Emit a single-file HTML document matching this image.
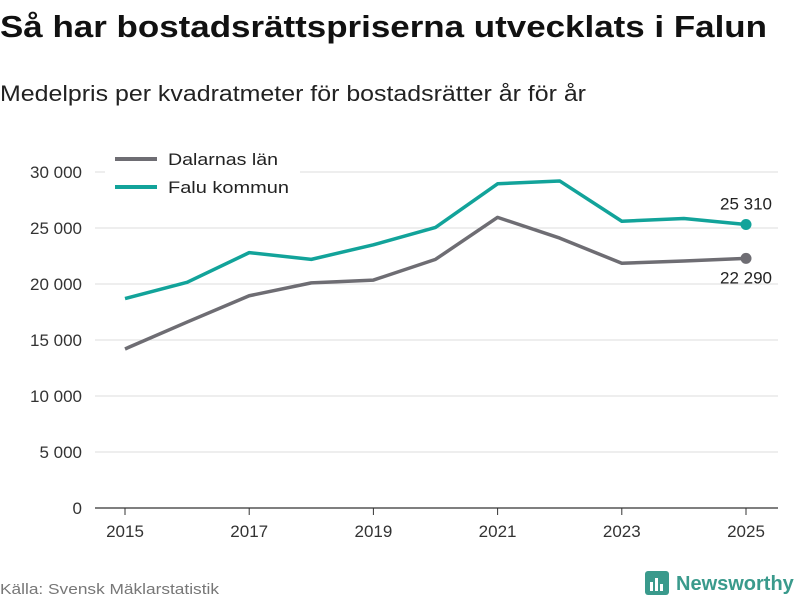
<!DOCTYPE html>
<html><head><meta charset="utf-8"><style>
body{margin:0;background:#fff;width:800px;height:600px;overflow:hidden;font-family:"Liberation Sans","DejaVu Sans",sans-serif}
</style></head><body>
<svg width="800" height="600" xmlns="http://www.w3.org/2000/svg">
<text x="0" y="37" font-size="31" font-weight="bold" fill="#111" textLength="767" lengthAdjust="spacingAndGlyphs">Så har bostadsrättspriserna utvecklats i Falun</text>
<text x="0" y="101" font-size="22" fill="#222" textLength="586" lengthAdjust="spacingAndGlyphs">Medelpris per kvadratmeter för bostadsrätter år för år</text>
<g id="grid"></g>
<g id="yt"></g>
<g id="xt"></g>
<g id="series"></g>
<g>
<rect x="105" y="146" width="195" height="56" fill="#fff"/>
<line x1="115" y1="159" x2="157" y2="159" stroke="#6e6d73" stroke-width="4"/>
<text x="168" y="165" font-size="17" fill="#222" textLength="110" lengthAdjust="spacingAndGlyphs">Dalarnas län</text>
<line x1="115" y1="187" x2="157" y2="187" stroke="#12a39a" stroke-width="4"/>
<text x="168" y="193" font-size="17" fill="#222" textLength="121" lengthAdjust="spacingAndGlyphs">Falu kommun</text>
</g>
<text x="0" y="594" font-size="15" fill="#777" textLength="219" lengthAdjust="spacingAndGlyphs">Källa: Svensk Mäklarstatistik</text>
<g>
<rect x="645" y="571" width="24" height="24" rx="3" fill="#3a9a8c"/>
<rect x="650" y="582" width="3" height="9" fill="#fff"/><rect x="655" y="578" width="3" height="13" fill="#fff"/><rect x="660" y="584" width="3" height="7" fill="#fff"/>
<text x="676" y="590" font-size="20" font-weight="bold" fill="#3a9a8c">Newsworthy</text>
</g>
</svg>
<script>
const years=[2015,2016,2017,2018,2019,2020,2021,2022,2023,2024,2025];
const dalarna=[14200,16600,18950,20100,20350,22200,25950,24100,21850,22050,22290];
const falu=[18700,20150,22800,22200,23500,25050,28950,29200,25600,25850,25310];
const yTicks=[0,5000,10000,15000,20000,25000,30000];
const xTicks=[2015,2017,2019,2021,2023,2025];
const NS="http://www.w3.org/2000/svg";
const x=v=>125+(v-2015)*62.1;
const y=v=>508-v/30000*336;
const fmt=v=>String(v).replace(/\B(?=(\d{3})+(?!\d))/g,"\u00a0");
function mk(t,a,p){const e=document.createElementNS(NS,t);for(const k in a)e.setAttribute(k,a[k]);p.appendChild(e);return e;}
const grid=document.getElementById('grid'),yt=document.getElementById('yt'),xt=document.getElementById('xt'),ser=document.getElementById('series');
yTicks.forEach(v=>{
 const l=mk('line',{x1:95,x2:778,y1:y(v),y2:y(v),stroke:v===0?'#333':'#ddd','stroke-width':v===0?1.2:1},grid);
 
 
 const t=mk('text',{x:82,y:y(v)+6,'text-anchor':'end','font-size':17,fill:'#333'},yt);
 t.textContent=fmt(v);
 
 
});
xTicks.forEach(v=>{
 const l=mk('line',{x1:x(v),x2:x(v),y1:508,y2:515,stroke:'#333'},xt);
 
 
 const t=mk('text',{x:x(v),y:537,'text-anchor':'middle','font-size':17,fill:'#333'},xt);
 t.textContent=v;
 
 
});
function line(vals,color,name,labelDy){
 const p=mk('polyline',{points:vals.map((v,i)=>x(years[i])+','+y(v)).join(' '),fill:'none',stroke:color,'stroke-width':3.5,'stroke-linejoin':'round'},ser);
 
 
 const last=vals.length-1;
 const c=mk('circle',{cx:x(years[last]),cy:y(vals[last]),r:5.5,fill:color},ser);
 
 
 const t=mk('text',{x:x(years[last]),y:y(vals[last])+labelDy,'text-anchor':'middle','font-size':17,fill:'#222'},ser);
 t.textContent=fmt(vals[last]);
 
 
}
line(dalarna,'#6e6d73','dalarna',25);
line(falu,'#12a39a','falu',-15);
</script>
</body></html>
